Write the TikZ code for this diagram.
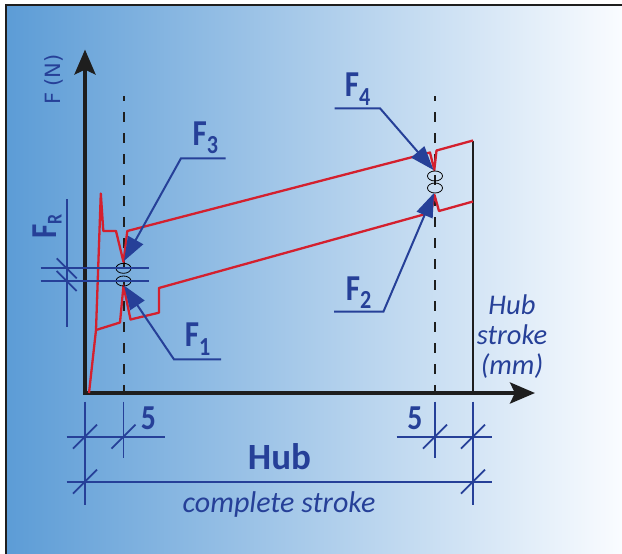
\documentclass[tikz,border=0pt]{standalone}
\usepackage{fontspec}
\setmainfont{Carlito}
\newfontfamily\narrowfont[FakeStretch=0.85]{Carlito}
\newfontfamily\axfont{DejaVu Sans}
\usetikzlibrary{arrows.meta}
\definecolor{cblue}{RGB}{38,64,152}
\definecolor{cred}{RGB}{212,32,46}
\definecolor{cbgl}{RGB}{92,156,214}
\definecolor{cbgr}{RGB}{250,252,255}
\definecolor{cgray}{RGB}{30,30,30}
\newcommand{\lsub}[1]{\raisebox{-8.3pt}{\fontsize{26}{26}\selectfont #1}}

\begin{document}
\begin{tikzpicture}[x=1pt, y=-1pt,
  lbl/.style={text=cblue, inner sep=0pt, anchor=base,
              font=\narrowfont\bfseries\fontsize{36.5}{36.5}\selectfont},
  num/.style={lbl, font=\narrowfont\bfseries\fontsize{35}{35}\selectfont},
  note/.style={text=cblue, inner sep=0pt, anchor=base,
               font=\itshape\fontsize{30}{30}\selectfont},
  axlbl/.style={text=cblue, inner sep=0pt, anchor=base,
                font=\axfont\fontsize{21}{21}\selectfont},
  lead/.style={draw=cblue, line width=2pt, line join=miter,
               -{Triangle[length=24pt,width=17pt]}},
  dim/.style={draw=cblue, line width=1.8pt},
  curve/.style={draw=cred, line width=2.3pt, line join=round},
  guide/.style={draw=cgray, line width=2pt, dash pattern=on 10pt off 11pt, dash phase=5pt},
  ax/.style={draw=cgray, line width=4pt,
             {Stealth[length=25pt,width=21pt,inset=5pt]}-{Stealth[length=25pt,width=21pt,inset=5pt]}},
  ring/.style={draw=black, line width=0.8pt}]
\useasboundingbox (0,0) rectangle (622,554);
\fill[white] (0,0) rectangle (622,554);
\shade[left color=cbgl, right color=cbgr] (6,5) rectangle (622,554);
\draw[cgray, line width=2pt] (622,5) -- (6,5) -- (6,554);

% axes
\coordinate (O) at (85,393);
\coordinate (ytop) at (85,49.5);
\coordinate (xend) at (535,393);
\draw[ax] (ytop) -- (O) -- (xend);
\node[axlbl, rotate=90] (fn) at (60,79.5) {F (N)};
\node[note, anchor=north, align=center, font=\itshape\fontsize{28.5}{30}\selectfont]
      (unit) at (512,295) {Hub\\stroke\\(mm)};

\draw[guide] (123.5,96) -- (123.5,393);
\draw[guide] (435,96) -- (435,393);
\draw[cgray, line width=1.5pt] (473,140.5) -- (473,393);

% force curve
\draw[curve] (89,393) -- (96,330) -- (100.8,193.5) -- (103.3,231) -- (116,231)
  -- (123.5,262) -- (127.3,231) -- (430,152.5) -- (434.3,170) -- (436.5,150.5) -- (473,140.5);
\draw[curve] (96,330) -- (120,322.5) -- (123.5,285.5) -- (130.5,319.5) -- (158.9,312.7)
  -- (158.9,288) -- (431,212.5) -- (434.5,195) -- (439,211) -- (473,201.5);
\foreach \x/\y in {123.5/268.3, 123.5/281, 435/176, 435/188}
  \draw[ring] (\x,\y) ellipse [x radius=7.5pt, y radius=5pt];

% F_R
\draw[dim] (40.7,268.3) -- (149.3,268.3);
\draw[dim] (40.7,281) -- (149.3,281);
\draw[dim] (66.7,199) -- (66.7,327);
\foreach \y in {268.3,281}
  \draw[dim] (56.7,\y-10) -- (76.7,\y+10);
\node[lbl, rotate=90] (fr) at (56.7,226.7) {F\raisebox{-5pt}{\fontsize{21}{21}\selectfont R}};

% leaders
\node[lbl] (f3) at (205.3,145) {F\lsub{3}};
\node[lbl] (f1) at (197.5,346.7) {F\lsub{1}};
\node[lbl] (f4) at (357.5,96.7) {F\lsub{4}};
\node[lbl] (f2) at (358.7,300) {F\lsub{2}};
\coordinate (u3) at (225.5,158.3); \coordinate (k3) at (181,158.3); \coordinate (t3) at (124,261);
\coordinate (u1) at (221,359.4);   \coordinate (k1) at (174,359.4); \coordinate (t1) at (124,285.5);
\coordinate (u4) at (334.5,108.3); \coordinate (k4) at (380,108.3); \coordinate (t4) at (433.5,170);
\coordinate (u2) at (334,311.7);   \coordinate (k2) at (383.4,311.7); \coordinate (t2) at (434,193);
\draw[lead] (u3) -- (k3) -- (t3);
\draw[lead] (u1) -- (k1) -- (t1);
\draw[lead] (u4) -- (k4) -- (t4);
\draw[lead] (u2) -- (k2) -- (t2);

% stroke dimensions
\foreach \x/\b in {85/505, 123.5/458.3, 435/458.3, 473/505}
  \draw[dim] (\x,401.7) -- (\x,\b);
\draw[dim] (66.7,436.7) -- (165,436.7);
\draw[dim] (396.7,436.7) -- (491.7,436.7);
\draw[dim] (66.7,481.7) -- (491.7,481.7);
\foreach \x/\y in {85/436.7, 123.5/436.7, 435/436.7, 473/436.7, 85/481.7, 473/481.7}
  \draw[dim] (\x-12,\y+12) -- (\x+12,\y-12);
\node[num] (five1) at (148.3,429.3) {5};
\node[num] (five2) at (415,429.3) {5};
\node[lbl, font=\bfseries\fontsize{37}{37}\selectfont] (hub) at (279.5,469.3) {Hub};
\node[note] (full) at (279,512) {complete stroke};
\end{tikzpicture}
\end{document}
